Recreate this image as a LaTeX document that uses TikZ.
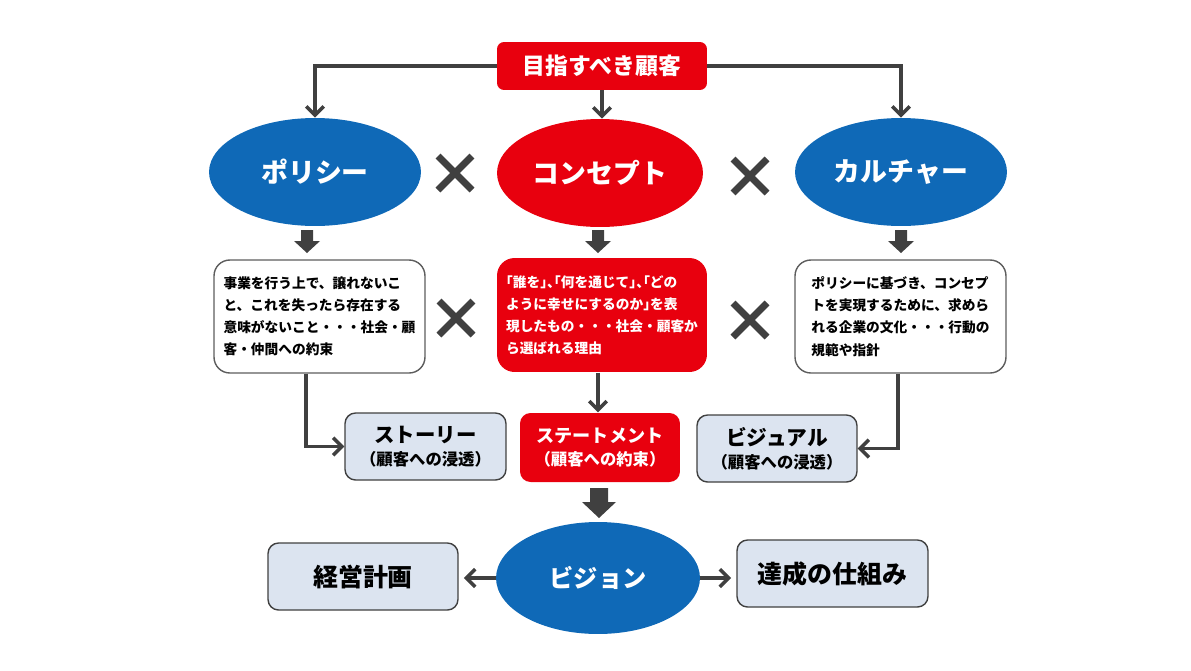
\documentclass[tikz,border=0pt]{standalone}
\usepackage{fontspec}
\setmainfont{Noto Sans CJK JP}
\usetikzlibrary{arrows.meta,shapes.geometric}
\definecolor{jblue}{HTML}{0F69B7}
\definecolor{jred}{HTML}{E8000E}
\definecolor{jgray}{HTML}{404040}
\definecolor{jlight}{HTML}{DCE4F0}
\newcommand\hw[1]{{\addfontfeature{RawFeature=+halt}#1}}
\begin{document}
\begin{tikzpicture}[x=0.02cm,y=-0.02cm,font=\bfseries,
  oval/.style={ellipse,fill=jblue,text=white,inner sep=0pt,minimum width=4.24cm,minimum height=2.16cm,font=\bfseries\fontsize{15.3}{18}\selectfont},
  redoval/.style={oval,fill=jred},
  topbox/.style={fill=jred,text=white,rounded corners=4pt,minimum width=4.2cm,minimum height=0.96cm,font=\bfseries\fontsize{13}{15}\selectfont},
  txtbox/.style={draw=jgray!85,line width=0.8pt,fill=white,rounded corners=9pt,minimum width=4.22cm,minimum height=2.26cm,align=left,inner sep=0pt,font=\bfseries\fontsize{7.8}{12.6}\selectfont},
  redtxtbox/.style={txtbox,draw=none,fill=jred,text=white,rounded corners=10pt},
  lightbox/.style={draw=jgray,line width=0.8pt,fill=jlight,rounded corners=6pt,minimum width=3.22cm,minimum height=1.34cm,align=center,inner sep=0pt},
  redlight/.style={lightbox,draw=none,fill=jred,text=white},
  bigbox/.style={lightbox,minimum width=3.8cm,font=\bfseries\fontsize{14.2}{16}\selectfont},
  conn/.style={draw=jgray,line width=2pt,-{Straight Barb[length=5pt,width=10pt]}},
  blockarrow/.style={fill=jgray,draw=none},
  crossmark/.style={draw=jgray,line width=4pt}]
\useasboundingbox (0,0) rectangle (1191,670);

% top
\node[topbox] (top) at (602,66) {目指すべき顧客};

% ellipses
\node[oval] (pol) at (315,172) {ポリシー};
\node[redoval,minimum width=4.12cm] (con) at (600,173) {コンセプト};
\node[oval] (cul) at (901,172) {カルチャー};

\draw[conn] (top.west) -| (pol.north);
\draw[conn] (top.east) -| (cul.north);
\draw[conn] (top.south) -- (top.south |- con.north);

% crosses
\foreach \cx/\cy in {455/173,750/176,456/318,750/320}{
  \draw[crossmark] (\cx-17,\cy-17) -- (\cx+17,\cy+17) (\cx+17,\cy-17) -- (\cx-17,\cy+17);
}

% small block arrows
\foreach \cx in {307,598,901}{
  \fill[blockarrow] (\cx-6,230) -- (\cx+6,230) -- (\cx+6,241) -- (\cx+13,241) -- (\cx,253) -- (\cx-13,241) -- (\cx-6,241) -- cycle;
}

% text boxes
\node[txtbox] (b1) at (319.5,316.5) {事業を行う上で、譲れないこ\\と、これを失ったら存在する\\意味がないこと・・・社会・顧\\客・仲間への約束};
\node[redtxtbox,minimum width=4.2cm,minimum height=2.28cm] (b2) at (602,315) {\hw{「}誰を\hw{」、「}何を通じて\hw{」、「}どの\\ように幸せにするのか\hw{」}を表\\現したもの・・・社会・顧客か\\ら選ばれる理由};
\node[txtbox] (b3) at (900.5,316.5) {ポリシーに基づき、コンセプ\\トを実現するために、求めら\\れる企業の文化・・・行動の\\規範や指針};

% second row
\node[lightbox] (sto) at (425.5,446.5) {{\fontsize{11.6}{13}\selectfont ストーリー}\\[1pt]{\fontsize{9.3}{10}\selectfont （顧客への浸透）}};
\node[redlight,minimum width=3.2cm,minimum height=1.38cm] (stm) at (600,447.5) {{\fontsize{10.3}{12}\selectfont ステートメント}\\[1pt]{\fontsize{9.3}{10}\selectfont （顧客への約束）}};
\node[lightbox,minimum width=3.2cm] (vis) at (777,448.5) {{\fontsize{11.8}{13}\selectfont ビジュアル}\\[1pt]{\fontsize{9.3}{10}\selectfont （顧客への浸透）}};

\draw[conn] ([xshift=-0.27cm]b1.south) |- (sto.west);
\draw[conn] ([xshift=-0.05cm]b3.south) |- (vis.east);
\draw[conn] ([xshift=-0.08cm]b2.south) -- ([xshift=-0.08cm]b2.south |- stm.north);

% big block arrow
\fill[blockarrow] (590,488) -- (608,488) -- (608,502) -- (616,502) -- (599,518) -- (582,502) -- (590,502) -- cycle;

% vision row
\node[oval,minimum width=4.08cm,minimum height=2.24cm,font=\bfseries\fontsize{13.8}{16}\selectfont] (visn) at (598,578) {ビジョン};
\node[bigbox] (kei) at (363,576.5) {経営計画};
\node[bigbox,minimum width=3.82cm] (tas) at (832.5,573.5) {達成の仕組み};
\draw[conn,shorten >=3pt] (visn.west) -- (visn.west -| kei.east);
\draw[conn,shorten >=3pt] (visn.east) -- (visn.east -| tas.west);
\end{tikzpicture}
\end{document}
